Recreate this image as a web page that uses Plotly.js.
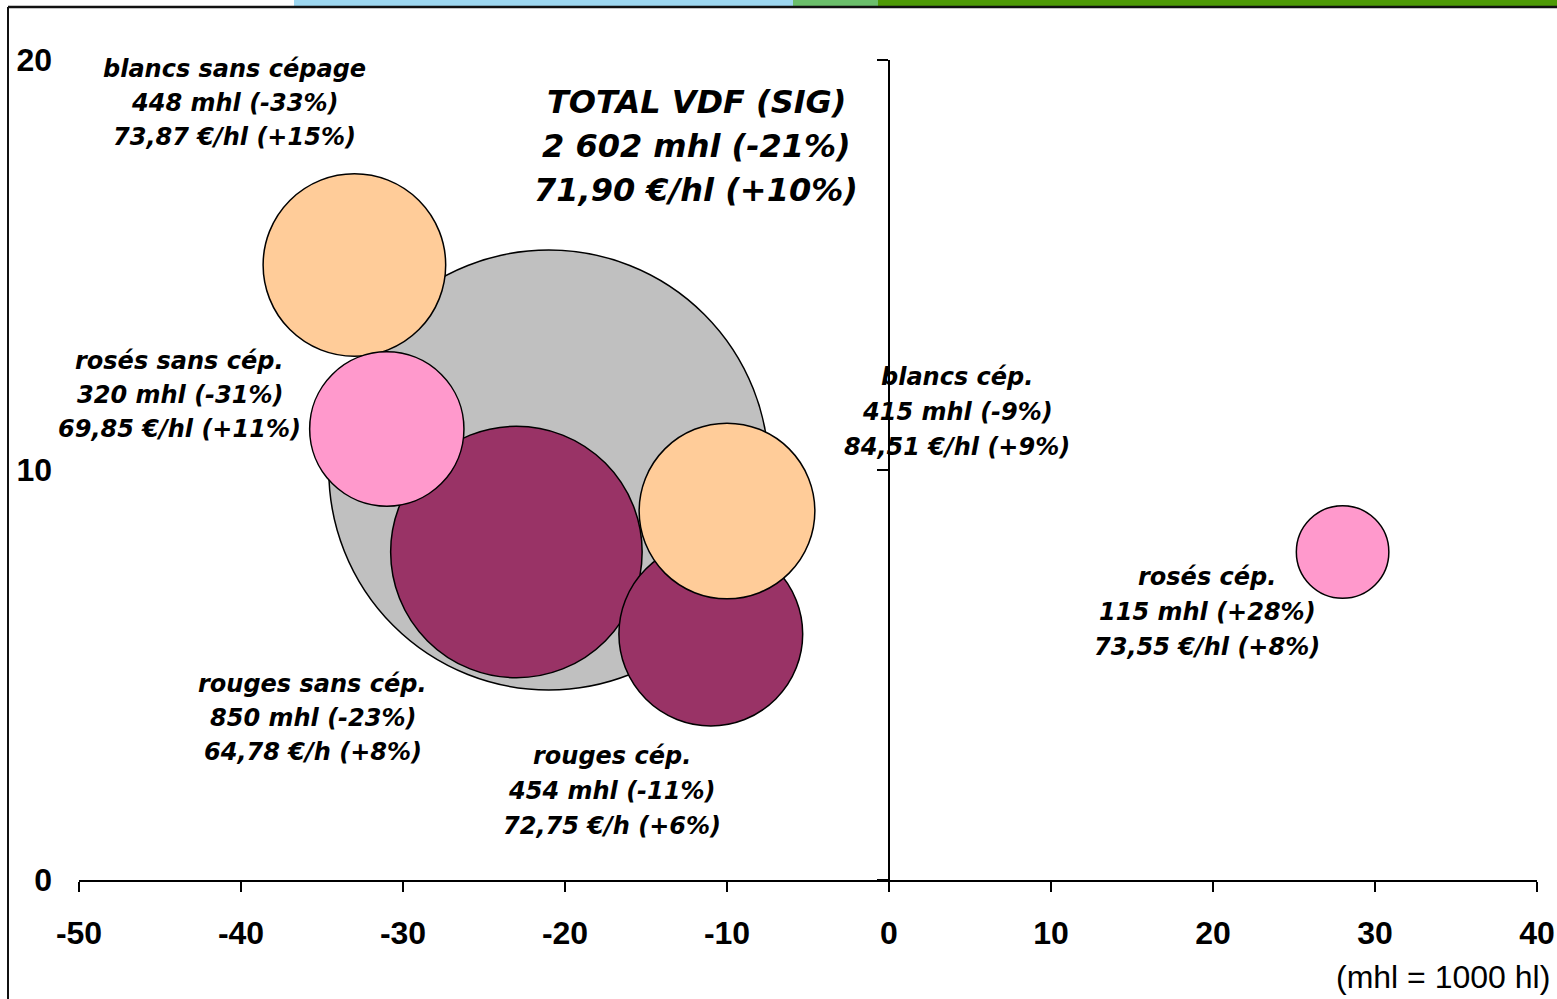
<!DOCTYPE html>
<html>
<head>
<meta charset="utf-8">
<script src="https://cdn.plot.ly/plotly-3.0.1.min.js"></script>
<style>html,body{margin:0;padding:0;background:#fff;overflow:hidden;}#chart{width:1557px;height:999px;}</style>
</head>
<body>
<div id="chart"></div>
<script>
// ---- data (draw order) ----
const names = ["TOTAL VDF (SIG)", "rouges sans cép.", "rouges cép.", "blancs cép.", "blancs sans cépage", "rosés sans cép.", "rosés cép."];
const volumes = [2602, 850, 454, 415, 448, 320, 115];           // mhl
const volChange = [-21, -23, -11, -10, -33, -31, 28];           // % (x)
const priceChange = [10, 8, 6, 9, 15, 11, 8];                   // % (y)
const volLabels = ["2 602 mhl (-21%)", "850 mhl (-23%)", "454 mhl (-11%)", "415 mhl (-9%)", "448 mhl (-33%)", "320 mhl (-31%)", "115 mhl (+28%)"];
const priceLabels = ["71,90 €/hl (+10%)", "64,78 €/h (+8%)", "72,75 €/h (+6%)", "84,51 €/hl (+9%)", "73,87 €/hl (+15%)", "69,85 €/hl (+11%)", "73,55 €/hl (+8%)"];
const colors = ["#c0c0c0", "#993366", "#993366", "#ffcc99", "#ffcc99", "#ff99cc", "#ff99cc"];
const xTicks = [-50, -40, -30, -20, -10, 0, 10, 20, 30, 40];
const yTicks = [0, 10, 20];
const unitNote = "(mhl = 1000 hl)";

// ---- label placement (centre of middle line, data coords) + line spacing px ----
const labelPos = [
  {x: -11.9, y: 17.9, gap: 44, size: 32},
  {x: -35.56, y: 3.95, gap: 34, size: 24},
  {x: -17.10, y: 2.17, gap: 35, size: 24},
  {x: 4.20, y: 11.41, gap: 35, size: 24},
  {x: -40.43, y: 18.95, gap: 34, size: 24},
  {x: -43.77, y: 11.83, gap: 34, size: 24},
  {x: 19.63, y: 6.54, gap: 35, size: 24}
];

const W = 1557, H = 999, ML = 79, MR = 20, MT = 60, MB = 119;
const PW = W - ML - MR, PH = H - MT - MB;
const px = p => (p - ML) / PW;
const py = q => (H - MB - q) / PH;

const maxR = 220;
const trace = {
  type: 'scatter', mode: 'markers',
  x: volChange, y: priceChange,
  marker: {
    size: volumes, sizemode: 'area',
    sizeref: 2 * Math.max(...volumes) / Math.pow(2 * maxR, 2),
    color: colors, opacity: 1,
    line: {color: '#000', width: 1.5}
  },
  cliponaxis: false, hoverinfo: 'skip', showlegend: false
};
// invisible companion trace so the crossing axis at x = 0 is drawn
const axisTrace = {
  type: 'scatter', mode: 'markers', x: volChange, y: priceChange, yaxis: 'y2',
  marker: {opacity: 0, size: 1}, hoverinfo: 'skip', showlegend: false
};

const annFont = s => ({family: 'DejaVu Sans, Liberation Sans, Arial', size: s, color: '#000', weight: 'bold', style: 'italic'});
const annotations = [];
names.forEach((n, i) => {
  const lp = labelPos[i];
  [n, volLabels[i], priceLabels[i]].forEach((t, k) => {
    annotations.push({
      x: lp.x, y: lp.y, xref: 'x', yref: 'y', text: t, showarrow: false,
      xanchor: 'center', yanchor: 'middle', yshift: (1 - k) * lp.gap,
      font: annFont(lp.size)
    });
  });
});
annotations.push({
  x: px(1334), y: py(977), xref: 'paper', yref: 'paper', text: unitNote, showarrow: false,
  xanchor: 'left', yanchor: 'middle',
  font: {family: 'Liberation Sans, Arial', size: 32, color: '#000'}
});

const shapes = [
  {type: 'rect', xref: 'paper', yref: 'paper', x0: px(294), x1: px(793), y0: py(6), y1: py(0), fillcolor: '#9dd7f0', line: {width: 0}},
  {type: 'rect', xref: 'paper', yref: 'paper', x0: px(793), x1: px(878), y0: py(6), y1: py(0), fillcolor: '#6bbf6b', line: {width: 0}},
  {type: 'rect', xref: 'paper', yref: 'paper', x0: px(878), x1: px(1557), y0: py(6), y1: py(0), fillcolor: '#4e9a06', line: {width: 0}},
  {type: 'line', xref: 'paper', yref: 'paper', x0: px(8), x1: px(1557), y0: py(7), y1: py(7), line: {color: '#111', width: 2.5}},
  {type: 'line', xref: 'paper', yref: 'paper', x0: px(8), x1: px(8), y0: py(7), y1: py(999), line: {color: '#111', width: 2}}
];

const tickFont = {family: 'Liberation Sans, Arial', size: 32, color: '#000', weight: 'bold'};
const layout = {
  width: W, height: H,
  margin: {l: ML, r: MR, t: MT, b: MB, pad: 0},
  paper_bgcolor: '#fff', plot_bgcolor: 'rgba(0,0,0,0)',
  showlegend: false,
  xaxis: {
    range: [-50, 40], tickvals: xTicks, ticktext: xTicks.map(String),
    showgrid: false, zeroline: false, showline: true, linecolor: '#000', linewidth: 2,
    ticks: 'outside', ticklen: 10, tickwidth: 2, tickcolor: '#000',
    tickfont: tickFont, ticklabelstandoff: 14, fixedrange: true
  },
  yaxis: {
    range: [0, 20], tickvals: yTicks, ticktext: yTicks.map(String),
    showgrid: false, zeroline: false, showline: false, ticks: '',
    tickfont: tickFont, ticklabelstandoff: 26, fixedrange: true
  },
  yaxis2: {
    range: [0, 20], overlaying: 'y', anchor: 'free', side: 'left',
    position: (0 - (-50)) / (40 - (-50)),
    tickvals: yTicks, showticklabels: false,
    showgrid: false, zeroline: false, showline: true, linecolor: '#000', linewidth: 2,
    ticks: 'outside', ticklen: 11, tickwidth: 2, tickcolor: '#000', fixedrange: true
  },
  shapes: shapes,
  annotations: annotations
};

Plotly.newPlot('chart', [axisTrace, trace], layout, {displayModeBar: false, staticPlot: true});
</script>
</body>
</html>
